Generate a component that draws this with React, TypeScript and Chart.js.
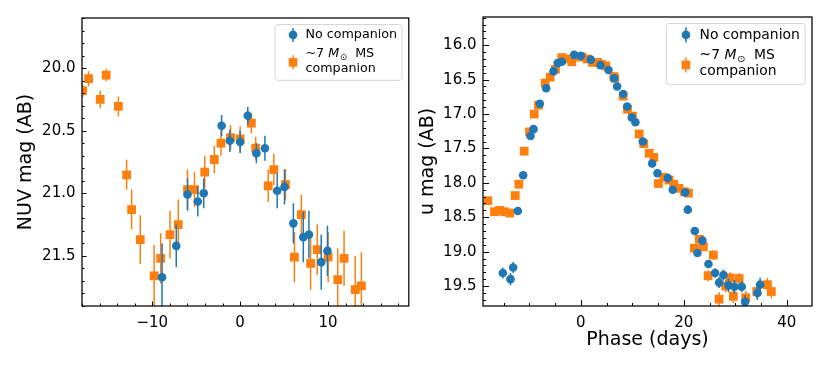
import React, { useEffect, useRef } from "react";
import { Chart, registerables } from "chart.js";
Chart.register(...registerables);

// ---------------- DATA ----------------
// Left panel: NUV light curve
const nuvNoCompPhase = [-8.89, -7.27, -5.99, -4.82, -4.14, -2.11, -1.17, 0.0, 0.87, 1.85, 2.82, 4.22, 5.05, 6.06, 7.19, 7.83, 9.23, 9.94];
const nuvNoCompMag = [21.67, 21.42, 21.01, 21.065, 21.0, 20.46, 20.58, 20.59, 20.38, 20.68, 20.64, 20.98, 20.95, 21.24, 21.35, 21.33, 21.55, 21.46];
const nuvNoCompErr = [0.27, 0.17, 0.13, 0.12, 0.12, 0.085, 0.09, 0.09, 0.07, 0.08, 0.1, 0.14, 0.14, 0.16, 0.2, 0.19, 0.22, 0.2];

const nuvCompPhase = [-17.93, -17.25, -15.93, -15.25, -13.86, -12.92, -12.35, -11.37, -9.79, -9.04, -7.98, -7.04, -5.99, -5.2, -4.03, -2.94, -2.18, -1.09, 0.0, 1.28, 1.77, 3.2, 3.84, 5.16, 6.18, 6.97, 8.02, 8.78, 10.02, 11.11, 11.83, 13.1, 13.8];
const nuvCompMag = [20.18, 20.085, 20.25, 20.056, 20.306, 20.852, 21.13, 21.37, 21.66, 21.52, 21.33, 21.25, 20.97, 20.97, 20.83, 20.73, 20.6, 20.556, 20.565, 20.44, 20.64, 20.94, 20.81, 20.93, 21.51, 21.17, 21.56, 21.45, 21.51, 21.69, 21.52, 21.77, 21.74];
const nuvCompErr = [0.05, 0.06, 0.07, 0.05, 0.08, 0.12, 0.16, 0.195, 0.25, 0.2, 0.19, 0.2, 0.16, 0.14, 0.13, 0.11, 0.1, 0.1, 0.1, 0.08, 0.09, 0.13, 0.125, 0.125, 0.2, 0.16, 0.21, 0.2, 0.2, 0.25, 0.22, 0.27, 0.27];

// Right panel: u light curve
const uNoCompPhase = [-15.15, -13.66, -13.14, -12.23, -11.2, -9.77, -9.19, -7.96, -6.73, -5.31, -4.5, -3.69, -1.29, 0.0, 1.94, 3.82, 5.37, 6.47, 7.06, 8.22, 9.0, 9.9, 10.6, 12.04, 13.85, 14.89, 16.89, 17.86, 20.26, 20.78, 22.14, 22.65, 23.62, 24.79, 26.08, 26.86, 27.7, 28.67, 29.84, 31.26, 31.9, 34.3, 34.82];
const uNoCompMag = [19.31, 19.4, 19.23, 18.41, 17.89, 17.32, 17.22, 16.85, 16.625, 16.38, 16.26, 16.24, 16.14, 16.155, 16.21, 16.29, 16.36, 16.48, 16.6, 16.71, 16.89, 17.05, 17.12, 17.4, 17.72, 17.86, 17.93, 18.1, 18.14, 18.39, 18.7, 19.02, 18.84, 19.18, 19.31, 19.45, 19.34, 19.49, 19.51, 19.51, 19.73, 19.6, 19.48];
const uNoCompErr = [0.08, 0.09, 0.08, 0.03, 0.02, 0.02, 0.02, 0.02, 0.02, 0.02, 0.02, 0.02, 0.02, 0.02, 0.02, 0.02, 0.02, 0.02, 0.02, 0.02, 0.02, 0.02, 0.02, 0.02, 0.03, 0.03, 0.03, 0.03, 0.03, 0.03, 0.04, 0.05, 0.05, 0.06, 0.07, 0.08, 0.08, 0.1, 0.1, 0.08, 0.1, 0.1, 0.1];

const uCompPhase = [-18.06, -16.76, -15.79, -14.82, -13.79, -12.75, -12.04, -11.0, -9.97, -9.06, -8.22, -6.93, -5.95, -4.92, -3.69, -2.91, -1.75, -0.58, 0.19, 1.23, 2.27, 3.3, 4.08, 4.85, 6.41, 6.6, 8.22, 9.06, 10.03, 11.33, 12.23, 13.27, 14.17, 15.08, 16.12, 17.15, 18.06, 19.09, 20.13, 20.9, 22.06, 23.03, 23.8, 24.72, 25.75, 26.85, 28.15, 29.0, 29.63, 30.74, 32.04, 34.17, 36.24, 37.0];
const uCompMag = [18.26, 18.42, 18.4, 18.42, 18.44, 18.185, 18.02, 17.54, 17.26, 17.0, 16.87, 16.55, 16.465, 16.35, 16.18, 16.2, 16.24, 16.17, 16.17, 16.2, 16.25, 16.25, 16.28, 16.3, 16.455, 16.48, 16.74, 16.93, 17.03, 17.29, 17.43, 17.57, 17.63, 18.01, 17.92, 17.96, 18.02, 18.08, 18.13, 18.15, 18.95, 18.82, 18.93, 19.35, 19.05, 19.69, 19.5, 19.38, 19.65, 19.39, 19.67, 19.58, 19.48, 19.58];
const uCompErr = [0.03, 0.03, 0.03, 0.03, 0.03, 0.03, 0.02, 0.02, 0.02, 0.02, 0.02, 0.02, 0.02, 0.02, 0.02, 0.02, 0.02, 0.02, 0.02, 0.02, 0.02, 0.02, 0.02, 0.02, 0.02, 0.02, 0.02, 0.02, 0.02, 0.02, 0.02, 0.02, 0.03, 0.03, 0.03, 0.03, 0.03, 0.03, 0.03, 0.03, 0.05, 0.06, 0.06, 0.08, 0.07, 0.1, 0.09, 0.08, 0.1, 0.08, 0.1, 0.1, 0.1, 0.1];

// Axis ticks
const nuvXTicks = [-10, 0, 10];
const nuvYTicks = [20.0, 20.5, 21.0, 21.5];
const uXTicks = [0, 20, 40];
const uYTicks = [16.0, 16.5, 17.0, 17.5, 18.0, 18.5, 19.0, 19.5];

const seriesLabels = ["No companion", "~7 M MS companion"];

const BLUE = "#1f77b4";
const ORANGE = "#ff7f0e";
const FONT = "'DejaVu Sans', 'Liberation Sans', sans-serif";

type Panel = {
  xMin: number; xMax: number; yMin: number; yMax: number;
  xTicks: number[]; yTicks: number[]; xMinor: number; yMinor: number;
  yTitle: string; xTitle?: string; yTitlePad: number;
  yAxisWidth: number; padTop: number; padRight: number;
  legendFont: number; majorLen: number; minorLen: number;
  blue: { x: number[]; y: number[]; e: number[] };
  orange: { x: number[]; y: number[]; e: number[] };
};

function fmtX(v: number) {
  return v < 0 ? "\u2212" + Math.abs(v) : String(v);
}

function drawLegendMarker(ctx: CanvasRenderingContext2D, x: number, y: number, color: string, square: boolean, f: number) {
  ctx.save();
  ctx.strokeStyle = color;
  ctx.fillStyle = color;
  ctx.lineWidth = 1.5;
  ctx.beginPath();
  ctx.moveTo(x, y - 0.55 * f);
  ctx.lineTo(x, y + 0.55 * f);
  ctx.stroke();
  ctx.beginPath();
  if (square) {
    const s = 4.3;
    ctx.rect(x - s, y - s, 2 * s, 2 * s);
  } else {
    ctx.arc(x, y, 4.3, 0, Math.PI * 2);
  }
  ctx.fill();
  ctx.restore();
}

function makePlugin(p: Panel) {
  return {
    id: "panelDecor",
    beforeDatasetDraw(chart: any, args: any) {
      const ds = chart.data.datasets[args.index];
      const errs: number[] = ds.errs;
      if (!errs) return;
      const ctx = chart.ctx;
      const xs = chart.scales.x, ys = chart.scales.y;
      const a = chart.chartArea;
      ctx.save();
      ctx.beginPath();
      ctx.rect(a.left, a.top, a.right - a.left, a.bottom - a.top);
      ctx.clip();
      ctx.strokeStyle = ds.backgroundColor;
      ctx.lineWidth = 1.5;
      ds.data.forEach((pt: any, i: number) => {
        const px = xs.getPixelForValue(pt.x);
        const y1 = ys.getPixelForValue(pt.y - errs[i]);
        const y2 = ys.getPixelForValue(pt.y + errs[i]);
        ctx.beginPath();
        ctx.moveTo(px, y1);
        ctx.lineTo(px, y2);
        ctx.stroke();
      });
      ctx.restore();
    },
    afterDatasetsDraw(chart: any) {
      const ctx = chart.ctx;
      const a = chart.chartArea;
      const xs = chart.scales.x, ys = chart.scales.y;
      // frame
      ctx.save();
      ctx.strokeStyle = "#000";
      ctx.lineWidth = 1.25;
      ctx.strokeRect(a.left, a.top, a.right - a.left, a.bottom - a.top);
      // ticks (inward, left and bottom only)
      ctx.lineWidth = 1;
      const isMajor = (v: number, arr: number[]) => arr.some((t) => Math.abs(t - v) < 1e-6);
      const drawX = (v: number, len: number) => {
        const px = Math.round(xs.getPixelForValue(v)) + 0.5;
        ctx.beginPath();
        ctx.moveTo(px, a.bottom);
        ctx.lineTo(px, a.bottom - len);
        ctx.stroke();
      };
      const drawY = (v: number, len: number) => {
        const py = Math.round(ys.getPixelForValue(v)) + 0.5;
        ctx.beginPath();
        ctx.moveTo(a.left, py);
        ctx.lineTo(a.left + len, py);
        ctx.stroke();
      };
      for (let k = Math.ceil(p.xMin / p.xMinor); k * p.xMinor <= p.xMax; k++) {
        const v = k * p.xMinor;
        drawX(v, isMajor(v, p.xTicks) ? p.majorLen : p.minorLen);
      }
      for (let k = Math.ceil(p.yMin / p.yMinor - 1e-6); k * p.yMinor <= p.yMax + 1e-6; k++) {
        const v = Math.round(k * p.yMinor * 1000) / 1000;
        drawY(v, isMajor(v, p.yTicks) ? p.majorLen : p.minorLen);
      }
      ctx.restore();

      // legend
      const f = p.legendFont;
      const w = 10 * f, h = 4.4 * f;
      const bx = a.right - 6.8 - w, by = a.top + 6.5;
      ctx.save();
      ctx.beginPath();
      const r = 3;
      ctx.moveTo(bx + r, by);
      ctx.lineTo(bx + w - r, by);
      ctx.quadraticCurveTo(bx + w, by, bx + w, by + r);
      ctx.lineTo(bx + w, by + h - r);
      ctx.quadraticCurveTo(bx + w, by + h, bx + w - r, by + h);
      ctx.lineTo(bx + r, by + h);
      ctx.quadraticCurveTo(bx, by + h, bx, by + h - r);
      ctx.lineTo(bx, by + r);
      ctx.quadraticCurveTo(bx, by, bx + r, by);
      ctx.closePath();
      ctx.fillStyle = "rgba(255,255,255,0.8)";
      ctx.fill();
      ctx.strokeStyle = "#d6d6d6";
      ctx.lineWidth = 1;
      ctx.stroke();

      const mx = bx + 1.42 * f;
      const tx = bx + 2.4 * f;
      drawLegendMarker(ctx, mx, by + 0.82 * f, BLUE, false, f);
      drawLegendMarker(ctx, mx, by + 2.98 * f, ORANGE, true, f);
      ctx.fillStyle = "#000";
      ctx.textBaseline = "middle";
      ctx.textAlign = "left";
      ctx.font = `${f}px ${FONT}`;
      ctx.fillText(seriesLabels[0], tx, by + 0.82 * f);
      // "~7 M_sun MS"
      let cx = tx;
      const l2 = by + 2.29 * f;
      ctx.fillText("~7 ", cx, l2);
      cx += ctx.measureText("~7 ").width;
      ctx.font = `italic ${f}px ${FONT}`;
      ctx.fillText("M", cx, l2);
      cx += ctx.measureText("M").width;
      ctx.font = `${0.7 * f}px ${FONT}`;
      ctx.fillText("\u2299", cx + 0.5, l2 + 0.3 * f);
      cx += ctx.measureText("\u2299").width + 0.5;
      ctx.font = `${f}px ${FONT}`;
      ctx.fillText("  MS", cx, l2);
      ctx.fillText("companion", tx, by + 3.47 * f);
      ctx.restore();
    },
  };
}

function buildConfig(p: Panel): any {
  const mk = (s: { x: number[]; y: number[]; e: number[] }) => s.x.map((x, i) => ({ x, y: s.y[i] }));
  return {
    type: "scatter",
    data: {
      datasets: [
        {
          label: seriesLabels[0],
          data: mk(p.blue),
          errs: p.blue.e,
          backgroundColor: BLUE,
          borderColor: BLUE,
          borderWidth: 0,
          pointStyle: "circle",
          pointRadius: 4.3,
          pointHoverRadius: 4.3,
          clip: 0,
        },
        {
          label: seriesLabels[1],
          data: mk(p.orange),
          errs: p.orange.e,
          backgroundColor: ORANGE,
          borderColor: ORANGE,
          borderWidth: 0,
          pointStyle: "rect",
          pointRadius: 6.2,
          pointHoverRadius: 6.2,
          clip: 0,
        },
      ],
    },
    options: {
      responsive: false,
      animation: false,
      events: [],
      layout: { padding: { top: p.padTop, right: p.padRight, bottom: 0, left: 0 } },
      plugins: { legend: { display: false }, tooltip: { enabled: false } },
      scales: {
        x: {
          type: "linear",
          min: p.xMin,
          max: p.xMax,
          grid: { display: false, drawTicks: false },
          border: { display: false },
          afterFit: (s: any) => { s.height = 63; },
          afterBuildTicks: (s: any) => { s.ticks = p.xTicks.map((v) => ({ value: v })); },
          ticks: {
            callback: (v: number) => fmtX(v),
            color: "#000",
            font: { family: FONT, size: 15 },
            padding: 8,
            maxRotation: 0,
            autoSkip: false,
          },
          title: p.xTitle
            ? { display: true, text: p.xTitle, color: "#000", font: { family: FONT, size: 19 }, padding: { top: 0, bottom: 17.5 } }
            : { display: false },
        },
        y: {
          type: "linear",
          reverse: true,
          min: p.yMin,
          max: p.yMax,
          grid: { display: false, drawTicks: false },
          border: { display: false },
          afterFit: (s: any) => { s.width = p.yAxisWidth; },
          afterBuildTicks: (s: any) => { s.ticks = p.yTicks.map((v) => ({ value: v })); },
          ticks: {
            callback: (v: number) => v.toFixed(1),
            color: "#000",
            font: { family: FONT, size: 15 },
            padding: 6.5,
            autoSkip: false,
          },
          title: { display: true, text: p.yTitle, color: "#000", font: { family: FONT, size: 19 }, padding: { top: p.yTitlePad, bottom: 0 } },
        },
      },
    },
    plugins: [makePlugin(p)],
  };
}

const leftPanel: Panel = {
  xMin: -18, xMax: 19.2, yMin: 19.6, yMax: 21.9,
  xTicks: nuvXTicks, yTicks: nuvYTicks, xMinor: 2, yMinor: 0.1,
  yTitle: "NUV mag (AB)", yTitlePad: 15,
  yAxisWidth: 82, padTop: 18, padRight: 3,
  legendFont: 12.7, majorLen: 4.5, minorLen: 2.5,
  blue: { x: nuvNoCompPhase, y: nuvNoCompMag, e: nuvNoCompErr },
  orange: { x: nuvCompPhase, y: nuvCompMag, e: nuvCompErr },
};

const rightPanel: Panel = {
  xMin: -19, xMax: 44.9, yMin: 15.59, yMax: 19.79,
  xTicks: uXTicks, yTicks: uYTicks, xMinor: 5, yMinor: 0.1,
  yTitle: "u mag (AB)", xTitle: "Phase (days)", yTitlePad: 1.5,
  yAxisWidth: 68, padTop: 17, padRight: 18,
  legendFont: 13.9, majorLen: 6, minorLen: 3,
  blue: { x: uNoCompPhase, y: uNoCompMag, e: uNoCompErr },
  orange: { x: uCompPhase, y: uCompMag, e: uCompErr },
};

function PanelChart({ panel, left }: { panel: Panel; left: number }) {
  const ref = useRef<HTMLCanvasElement>(null);
  useEffect(() => {
    if (!ref.current) return;
    const chart = new Chart(ref.current, buildConfig(panel));
    return () => chart.destroy();
  }, [panel]);
  return (
    <div style={{ position: "absolute", left, top: 0, width: 415, height: 369 }}>
      <canvas ref={ref} width={415} height={369} style={{ width: 415, height: 369, display: "block" }} />
    </div>
  );
}

export default function App() {
  return (
    <div style={{ position: "fixed", left: 0, top: 0, width: 830, height: 369, background: "#fff", overflow: "hidden" }}>
      <PanelChart panel={leftPanel} left={0} />
      <PanelChart panel={rightPanel} left={415} />
    </div>
  );
}
